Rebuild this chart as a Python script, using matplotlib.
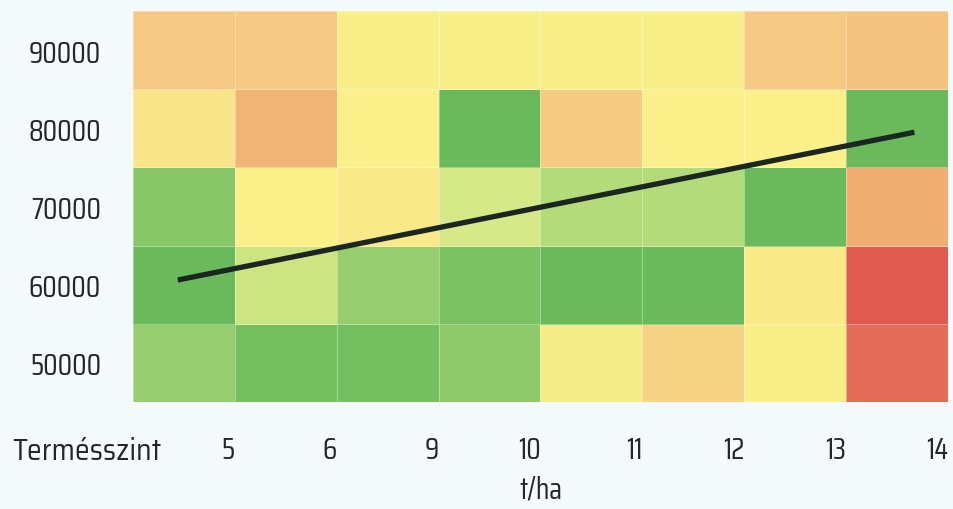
import matplotlib
matplotlib.use("Agg")
import matplotlib.pyplot as plt
import numpy as np
from matplotlib.colors import LinearSegmentedColormap

# Data
yield_levels = ["5", "6", "9", "10", "11", "12", "13", "14"]
plant_density = [50000, 60000, 70000, 80000, 90000]
# score per cell (0 = red/poor, 100 = green/good), rows bottom (50000) -> top (90000)
row_50000 = [88, 97, 97, 90, 58, 44, 56, 6]
row_60000 = [100, 73, 88, 95, 100, 100, 53, 0]
row_70000 = [92, 55, 52, 70, 80, 80, 100, 27]
row_80000 = [50, 30, 55, 100, 41, 55, 55, 100]
row_90000 = [40, 40, 56, 56, 56, 56, 40, 37]
scores = np.array([row_50000, row_60000, row_70000, row_80000, row_90000])

trend_pos = [-0.06, 7.17]        # position along the category axis
trend_vals = [60600, 79500]      # plant density

xlabel_left = "Termésszint"
xlabel = "t/ha"

plt.rcParams['font.family'] = ['Saira Condensed', 'Roboto Condensed', 'DejaVu Sans']

cmap = LinearSegmentedColormap.from_list(
    "rg",
    [(0.0, "#e05a52"), (0.25, "#eeab6f"), (0.40, "#f5c984"),
     (0.55, "#fbf089"), (0.70, "#d7e887"), (0.80, "#b4db7a"),
     (1.0, "#6aba5c")])

bg = "#f4fafb"
fig = plt.figure(figsize=(9.54, 5.10), dpi=100, facecolor=bg)
ax = fig.add_axes([133/954, 1-403/510, (948-133)/954, (403-12)/510])
ax.set_facecolor(bg)

x_edges = np.arange(len(yield_levels) + 1) - 0.5
y_edges = np.array(plant_density + [plant_density[-1] + 10000]) - 5000
ax.pcolormesh(x_edges, y_edges, scores, cmap=cmap, vmin=0, vmax=100,
              edgecolors=(1, 1, 1, 0.35), linewidth=0.5)

ax.plot(trend_pos, trend_vals, color="#1b2621", lw=3.8, solid_capstyle="butt")

ax.set_xlim(x_edges[0], x_edges[-1])
ax.set_ylim(y_edges[0], y_edges[-1])

for s in ax.spines.values():
    s.set_visible(False)

fs = 21.5
fw = "normal"
txt_color = "#262626"
ax.set_yticks(plant_density)
ax.set_yticklabels([str(v) for v in plant_density], fontsize=fs, color=txt_color,
                   fontweight=fw)
ax.tick_params(axis="y", length=0, pad=23)

ax.set_xticks(np.arange(len(yield_levels)) + 0.5)
ax.set_xticklabels(yield_levels, fontsize=fs, color=txt_color, ha="right",
                   fontweight=fw)
ax.tick_params(axis="x", length=0, pad=24)

fig.text(12/954, 1-452/510, xlabel_left, fontsize=fs, color=txt_color,
         ha="left", va="center", fontweight=fw,
         family=['Saira SemiCondensed', 'Saira Condensed', 'DejaVu Sans'])
ax.set_xlabel(xlabel, fontsize=fs, color=txt_color, labelpad=7, fontweight=fw)

fig.savefig("out.png", dpi=100, facecolor=bg)
